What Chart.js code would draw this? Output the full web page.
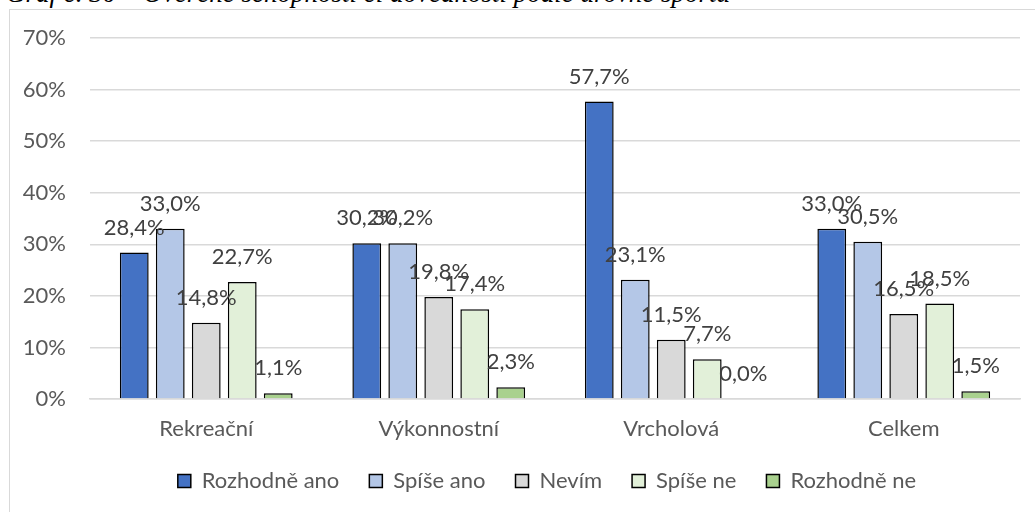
<!DOCTYPE html>
<html>
<head>
<meta charset="utf-8">
<script src="https://cdn.jsdelivr.net/npm/chart.js@4.4.1/dist/chart.umd.min.js"></script>
<style>
    html, body { margin: 0; padding: 0; background: #fff; overflow: hidden; }
    #wrap { position: relative; width: 1035px; height: 512px; }
    #frame { position: absolute; left: 9px; top: 9px; width: 1100px; height: 600px; border: 1px solid #d9d9d9; }
    #title {
        position: absolute; left: 6px; top: -22px; white-space: nowrap;
        font-family: "Liberation Serif", serif; font-style: italic; font-size: 27px; color: #000;
    }
    canvas { position: absolute; left: 0; top: 0; }
</style>
</head>
<body>
<div id="wrap">
    <div id="title">Graf č. 30 – Ověřené schopnosti či dovednosti podle úrovně sportu</div>
    <div id="frame"></div>
    <canvas id="chart" width="1035" height="512"></canvas>
</div>
<script>
// ─── DATA ────────────────────────────────────────────────────────────────
var categories = ['Rekreační', 'Výkonnostní', 'Vrcholová', 'Celkem'];
var seriesNames = ['Rozhodně ano', 'Spíše ano', 'Nevím', 'Spíše ne', 'Rozhodně ne'];
var rozhodneAno = [28.4, 30.2, 57.7, 33.0];
var spiseAno = [33.0, 30.2, 23.1, 30.5];
var nevim = [14.8, 19.8, 11.5, 16.5];
var spiseNe = [22.7, 17.4, 7.7, 18.5];
var rozhodneNe = [1.1, 2.3, 0.0, 1.5];
var yTicks = [0, 10, 20, 30, 40, 50, 60, 70];

var seriesValues = [rozhodneAno, spiseAno, nevim, spiseNe, rozhodneNe];
var seriesColors = ['#4472c4', '#b4c7e7', '#d9d9d9', '#e2f0d9', '#a9d18e'];
var FONT = 'Lato, "Open Sans", sans-serif';
var FSIZE = 22;

function fmt(v) {
    return v.toFixed(1).replace('.', ',') + '%';
}

// ─── VALUE LABELS ABOVE BARS ─────────────────────────────────────────────
var barLabels = {
    id: 'barLabels',
    afterLayout: function (chart) {
        // legend sits a little right of the canvas centre in the original
        if (chart.legend) chart.legend.left += 74;
    },
    afterDatasetsDraw: function (chart) {
        var ctx = chart.ctx;
        ctx.save();
        ctx.font = FSIZE + 'px ' + FONT;
        ctx.fillStyle = '#404040';
        ctx.textAlign = 'center';
        ctx.textBaseline = 'middle';
        chart.data.datasets.forEach(function (ds, i) {
            chart.getDatasetMeta(i).data.forEach(function (bar, j) {
                ctx.fillText(fmt(ds.data[j]), bar.x, bar.y - 25);
            });
        });
        ctx.restore();
    }
};

var datasets = seriesNames.map(function (name, i) {
    return {
        label: name,
        data: seriesValues[i],
        backgroundColor: seriesColors[i],
        borderColor: '#000',
        borderWidth: 1.5,
        categoryPercentage: 0.774,
        barPercentage: 0.8
    };
});

new Chart(document.getElementById('chart').getContext('2d'), {
    type: 'bar',
    data: { labels: categories, datasets: datasets },
    plugins: [barLabels],
    options: {
        responsive: false,
        animation: false,
        layout: { padding: { left: 0, right: 15, top: 38, bottom: 10 } },
        plugins: {
            tooltip: { enabled: false },
            legend: {
                position: 'bottom',
                labels: {
                    color: '#595959',
                    font: { family: FONT, size: FSIZE },
                    boxWidth: 13,
                    boxHeight: 13,
                    padding: 30,
                    useBorderRadius: false
                }
            }
        },
        scales: {
            x: {
                grid: { display: false, drawTicks: false },
                border: { color: '#d9d9d9', width: 1.5 },
                ticks: { color: '#595959', font: { family: FONT, size: FSIZE }, padding: 17 },
                afterFit: function (s) { s.height = 41; }
            },
            y: {
                min: 0,
                max: 70,
                afterBuildTicks: function (s) {
                    s.ticks = yTicks.map(function (v) { return { value: v }; });
                },
                grid: { color: '#d9d9d9', lineWidth: 1.5, drawTicks: false },
                border: { display: false },
                ticks: {
                    color: '#595959',
                    font: { family: FONT, size: FSIZE },
                    padding: 24,
                    callback: function (v) { return v + '%'; }
                },
                afterFit: function (s) { s.width = 90; }
            }
        }
    }
});
</script>
</body>
</html>
